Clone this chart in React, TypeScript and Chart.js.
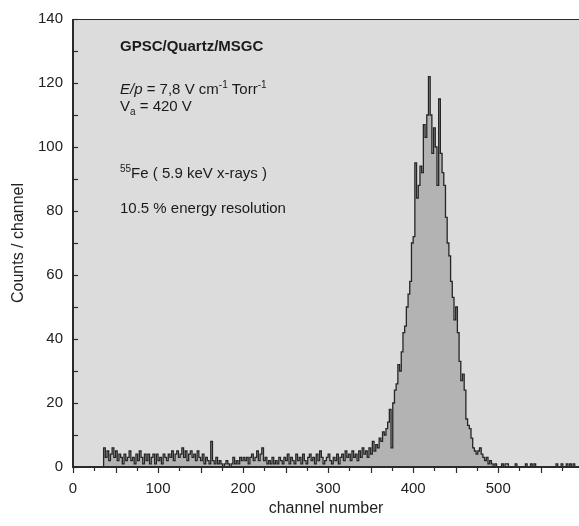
import React, { useEffect, useRef } from 'react';
import { Chart, registerables } from 'chart.js';

Chart.register(...registerables);

// Histogram: counts per 2-channel bin, first bin starts at channel 34
const startChannel = 34;
const binWidth = 2;
const counts = [
  0, 6, 3, 5, 2, 4, 6, 3, 5, 2,
  4, 3, 1, 4, 2, 3, 5, 2, 3, 1,
  4, 2, 5, 3, 1, 4, 2, 4, 1, 3,
  4, 1, 4, 2, 3, 1, 4, 3, 2, 4,
  3, 5, 2, 4, 5, 3, 4, 6, 3, 5,
  2, 4, 5, 3, 4, 2, 5, 3, 2, 4,
  1, 3, 2, 1, 8, 2, 1, 3, 1, 2,
  1, 0, 1, 2, 1, 0, 1, 3, 1, 2,
  1, 3, 2, 3, 2, 3, 1, 3, 4, 2,
  3, 5, 2, 4, 6, 2, 3, 1, 2, 1,
  3, 1, 2, 1, 3, 2, 1, 3, 2, 4,
  1, 3, 2, 1, 4, 2, 3, 1, 4, 2,
  1, 3, 4, 2, 3, 1, 4, 2, 5, 3,
  1, 2, 3, 4, 2, 1, 3, 2, 4, 1,
  3, 4, 2, 5, 3, 4, 2, 5, 3, 4,
  2, 5, 3, 6, 4, 5, 3, 6, 4, 8,
  5, 7, 6, 9, 8, 11, 10, 12, 14, 18,
  6, 20, 24, 26, 32, 30, 36, 42, 44, 50,
  54, 58, 70, 72, 95, 84, 88, 94, 92, 107,
  103, 110, 122, 110, 98, 106, 100, 88, 115, 98,
  92, 88, 78, 70, 66, 58, 53, 46, 50, 42,
  33, 27, 29, 24, 15, 13, 12, 9, 6, 5,
  4, 5, 6, 4, 3, 2, 3, 1, 2, 1,
  0, 1, 0, 0, 0, 1, 0, 1, 1, 0,
  0, 0, 0, 1, 0, 0, 0, 0, 0, 1,
  0, 0, 1, 0, 1, 0, 0, 0, 0, 0,
  0, 0, 0, 0, 0, 0, 0, 1, 0, 0,
  1, 0, 0, 1, 0, 1, 0, 1, 0, 0,
];

const xLabelValues = [0, 100, 200, 300, 400, 500];
const yLabelValues = [0, 20, 40, 60, 80, 100, 120, 140];
const xMin = 0;
const xMax = 595;
const yMin = 0;
const yMax = 140;
const xMinorStep = 25;
const yMinorStep = 10;

const FONT = '"Liberation Sans", Arial, Helvetica, sans-serif';

type Run = { text: string; font: string; dy?: number };

function drawRuns(ctx: CanvasRenderingContext2D, x: number, y: number, runs: Run[]) {
  let cx = x;
  for (const r of runs) {
    ctx.font = r.font;
    ctx.fillText(r.text, cx, y + (r.dy || 0));
    cx += ctx.measureText(r.text).width;
  }
}

const framePlugin = {
  id: 'frame',
  beforeDraw(chart: any) {
    const { ctx, chartArea: a } = chart;
    ctx.save();
    ctx.fillStyle = '#dcdcdc';
    ctx.fillRect(a.left, a.top, a.right - a.left, a.bottom - a.top);
    ctx.restore();
  },
  afterDatasetsDraw(chart: any) {
    const { ctx, chartArea: a } = chart;
    const xs = chart.scales.x;
    const ys = chart.scales.y;
    ctx.save();
    ctx.strokeStyle = '#2b2b2b';
    ctx.lineWidth = 1;
    ctx.beginPath();
    ctx.moveTo(a.left, a.top + 0.5);
    ctx.lineTo(a.right, a.top + 0.5);
    ctx.stroke();
    ctx.lineWidth = 2;
    ctx.beginPath();
    ctx.moveTo(a.left, a.top);
    ctx.lineTo(a.left, a.bottom);
    ctx.lineTo(a.right, a.bottom);
    ctx.stroke();
    ctx.lineWidth = 1.2;
    for (let v = yMin; v <= yMax; v += yMinorStep) {
      const py = Math.round(ys.getPixelForValue(v)) + 0.5;
      ctx.beginPath();
      ctx.moveTo(a.left, py);
      ctx.lineTo(a.left + 5, py);
      ctx.stroke();
    }
    for (let v = xMin; v <= xMax; v += xMinorStep) {
      const px = Math.round(xs.getPixelForValue(v)) + 0.5;
      const len = v % 50 === 0 ? 6 : 4;
      ctx.beginPath();
      ctx.moveTo(px, a.bottom);
      ctx.lineTo(px, a.bottom + len);
      ctx.stroke();
    }
    const tx = a.left + 47;
    ctx.fillStyle = '#1a1a1a';
    ctx.textBaseline = 'alphabetic';
    ctx.textAlign = 'left';
    const n = `15px ${FONT}`;
    const s = `10px ${FONT}`;
    drawRuns(ctx, tx, a.top + 32, [{ text: 'GPSC/Quartz/MSGC', font: `bold 15px ${FONT}` }]);
    drawRuns(ctx, tx, a.top + 75, [
      { text: 'E/p', font: `italic 15px ${FONT}` },
      { text: ' = 7,8 V cm', font: n },
      { text: '-1', font: s, dy: -6 },
      { text: ' Torr', font: n },
      { text: '-1', font: s, dy: -6 },
    ]);
    drawRuns(ctx, tx, a.top + 92, [
      { text: 'V', font: n },
      { text: 'a', font: s, dy: 4 },
      { text: ' = 420 V', font: n },
    ]);
    drawRuns(ctx, tx, a.top + 159, [
      { text: '55', font: s, dy: -6 },
      { text: 'Fe ( 5.9 keV x-rays )', font: n },
    ]);
    drawRuns(ctx, tx, a.top + 194, [{ text: '10.5 % energy resolution', font: n }]);
    ctx.restore();
  },
};

export default function App() {
  const ref = useRef<HTMLCanvasElement>(null);
  useEffect(() => {
    const points = counts.map((c, i) => ({ x: startChannel + i * binWidth, y: c }));
    points.push({ x: startChannel + counts.length * binWidth, y: 0 });
    Chart.defaults.font.family = FONT;
    const chart = new Chart(ref.current!, {
      type: 'line',
      data: {
        datasets: [
          {
            data: points,
            stepped: true,
            borderColor: '#262626',
            borderWidth: 1.3,
            backgroundColor: '#b3b3b3',
            fill: 'origin',
            pointRadius: 0,
            tension: 0,
          },
        ],
      },
      options: {
        animation: false,
        responsive: false,
        layout: { padding: { top: 18, left: 0, right: 0, bottom: 0 } },
        plugins: { legend: { display: false }, tooltip: { enabled: false } },
        scales: {
          x: {
            type: 'linear',
            min: xMin,
            max: xMax,
            afterBuildTicks: (sc: any) => {
              sc.ticks = xLabelValues.map((v) => ({ value: v }));
            },
            afterFit: (sc: any) => {
              sc.height = 59;
            },
            grid: { display: false, drawTicks: false },
            border: { display: false },
            ticks: {
              autoSkip: false,
              maxRotation: 0,
              padding: 13,
              color: '#222',
              font: { size: 15 },
            },
            title: {
              display: true,
              text: 'channel number',
              color: '#222',
              font: { size: 16 },
              padding: { top: 0, bottom: 8 },
            },
          },
          y: {
            type: 'linear',
            min: yMin,
            max: yMax,
            afterBuildTicks: (sc: any) => {
              sc.ticks = yLabelValues.map((v) => ({ value: v }));
            },
            afterFit: (sc: any) => {
              sc.width = 73;
            },
            grid: { display: false, drawTicks: false },
            border: { display: false },
            ticks: {
              padding: 10,
              color: '#222',
              font: { size: 15 },
            },
            title: {
              display: true,
              text: 'Counts / channel',
              color: '#222',
              font: { size: 16 },
              padding: { top: 9, bottom: 0 },
            },
          },
        },
      },
      plugins: [framePlugin],
    } as any);
    return () => chart.destroy();
  }, []);
  return (
    <div style={{ position: 'absolute', left: 0, top: 0, width: 579, height: 526, background: '#fff' }}>
      <canvas ref={ref} width={579} height={526} style={{ display: 'block', width: 579, height: 526 }} />
    </div>
  );
}
